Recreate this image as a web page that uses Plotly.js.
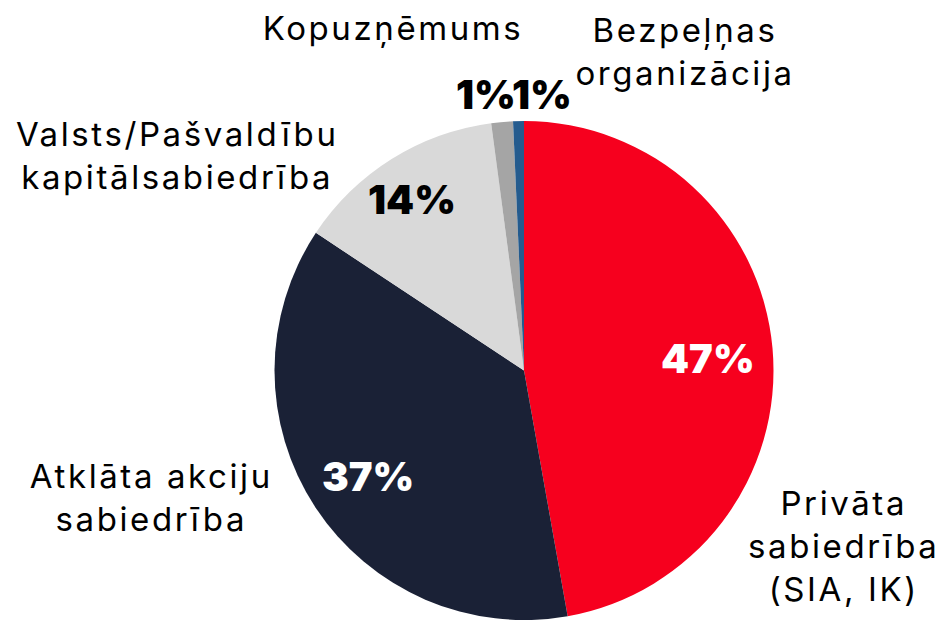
<!DOCTYPE html>
<html>
<head>
<meta charset="utf-8">
<script src="https://cdn.plot.ly/plotly-3.0.1.min.js"></script>
<style>
html, body { margin: 0; padding: 0; background: #ffffff; }
#chart { width: 941px; height: 620px; }
.annotation[data-index="0"] .annotation-text,
.annotation[data-index="1"] .annotation-text,
.annotation[data-index="2"] .annotation-text,
.annotation[data-index="3"] .annotation-text,
.annotation[data-index="4"] .annotation-text { letter-spacing: 2.6px; }
</style>
</head>
<body>
<div id="chart"></div>
<script>
// ---- data ----
const categories = [
  "Privāta sabiedrība (SIA, IK)",
  "Atklāta akciju sabiedrība",
  "Valsts/Pašvaldību kapitālsabiedrība",
  "Kopuzņēmums",
  "Bezpeļņas organizācija"
];
const categoryLines = [
  "Privāta<br>sabiedrība<br>(SIA, IK)",
  "Atklāta akciju<br>sabiedrība",
  "Valsts/Pašvaldību<br>kapitālsabiedrība",
  "Kopuzņēmums",
  "Bezpeļņas<br>organizācija"
];
const shares = [47.2, 37.1, 13.6, 1.4, 0.7];

// ---- styles ----
const sliceColors = ["#F6001E", "#1A2136", "#D9D9D9", "#A5A5A5", "#245B8E"];
const pctColors = ["#ffffff", "#ffffff", "#000000", "#000000", "#000000"];
// label placement (pixel centres in the 941x620 canvas)
const W = 941, H = 620;
const pctPos = [[708, 359], [368, 476], [412, 199], [486, 95], [542, 95]];
const namePos = [[843, 546], [151, 497], [177, 155], [393, 28], [685, 51]];

const total = shares.reduce((a, b) => a + b, 0);
const nameAnn = [], pctAnn = [];
shares.forEach((v, i) => {
  nameAnn.push({
    text: categoryLines[i],
    x: namePos[i][0] / W, y: 1 - namePos[i][1] / H,
    xref: "paper", yref: "paper", xanchor: "center", yanchor: "middle",
    showarrow: false, align: "center",
    font: { family: "Inter, sans-serif", size: 33, color: "#000000" }
  });
  pctAnn.push({
    text: Math.round(v / total * 100) + "%",
    x: pctPos[i][0] / W, y: 1 - pctPos[i][1] / H,
    xref: "paper", yref: "paper", xanchor: "center", yanchor: "middle",
    showarrow: false,
    font: { family: "Inter, Roboto, sans-serif", size: 40, weight: 900, color: pctColors[i] }
  });
});

const R = 249.5, cx = 524;
const trace = {
  type: "pie",
  labels: categories,
  values: shares,
  sort: false,
  direction: "clockwise",
  rotation: 0,
  textinfo: "none",
  hoverinfo: "label+percent",
  marker: { colors: sliceColors, line: { color: "#ffffff", width: 0 } },
  domain: { x: [(cx - R) / W, (cx + R) / W], y: [0, (2 * R) / H] }
};

const layout = {
  width: W, height: H,
  margin: { l: 0, r: 0, t: 0, b: 0 },
  showlegend: false,
  paper_bgcolor: "#ffffff",
  plot_bgcolor: "#ffffff",
  annotations: nameAnn.concat(pctAnn)
};

Plotly.newPlot("chart", [trace], layout, { displayModeBar: false, staticPlot: true });
</script>
</body>
</html>
